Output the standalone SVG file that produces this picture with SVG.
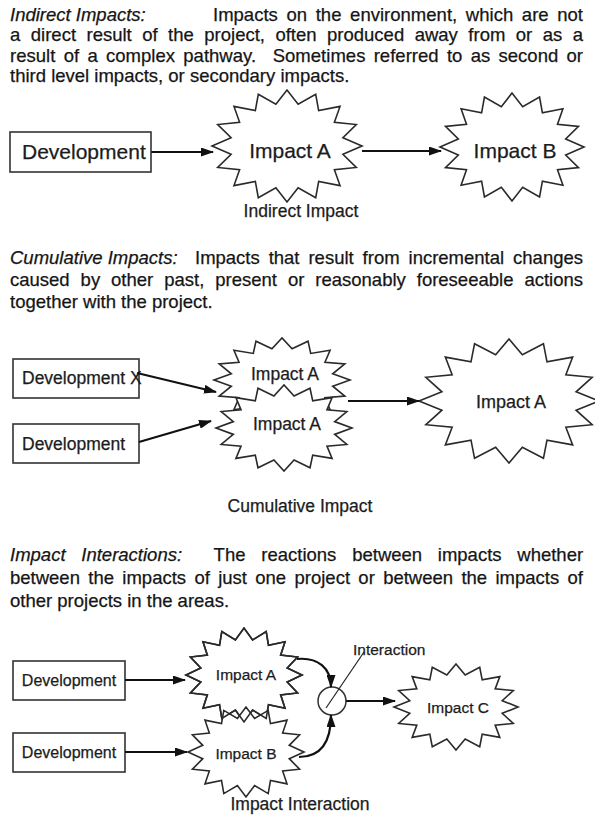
<svg xmlns="http://www.w3.org/2000/svg" xmlns:xlink="http://www.w3.org/1999/xlink" width="595" height="816" viewBox="0 0 595 816">
  <style>
    .p { font-family: "Liberation Sans", Arial, sans-serif; font-size: 18.5px; fill: #151515; stroke: #151515; stroke-width: 0.25; }
    .it { font-style: italic; }
    .lbl { font-family: "Liberation Sans", Arial, sans-serif; fill: #1c1c1c; stroke: #1c1c1c; stroke-width: 0.25; }
    .box { fill: #fff; stroke: #333; stroke-width: 1.6; }
    .burst { fill: #fff; stroke: #2a2a2a; stroke-width: 1.6; }
    .burst-line { fill: none; stroke: #2a2a2a; stroke-width: 1.6; }
    .conn { fill: none; stroke: #111; stroke-width: 2.2; }
    .thin { fill: none; stroke: #222; stroke-width: 1.2; }
  </style>
  <defs>
    <!-- 16-point burst, outer radius 100, inner radius 76 -->
    <polygon id="burst" vector-effect="non-scaling-stroke" points="100,0 74.54,14.83 92.39,38.27 63.19,42.22 70.71,70.71 42.22,63.19 38.27,92.39 14.83,74.54 0,100 -14.83,74.54 -38.27,92.39 -42.22,63.19 -70.71,70.71 -63.19,42.22 -92.39,38.27 -74.54,14.83 -100,0 -74.54,-14.83 -92.39,-38.27 -63.19,-42.22 -70.71,-70.71 -42.22,-63.19 -38.27,-92.39 -14.83,-74.54 0,-100 14.83,-74.54 38.27,-92.39 42.22,-63.19 70.71,-70.71 63.19,-42.22 92.39,-38.27 74.54,-14.83"/>
    <marker id="ah" markerUnits="userSpaceOnUse" markerWidth="13" markerHeight="9" refX="12" refY="4.5" orient="auto">
      <path d="M0,0 L13,4.5 L0,9 Z" fill="#111"/>
    </marker>
  </defs>

  <!-- Paragraph 1 -->
  <g id="text-indirect">
    <text class="p it" x="10" y="21">Indirect Impacts:</text>
    <text class="p" x="213" y="21" word-spacing="3.5" textLength="370" lengthAdjust="spacing">Impacts on the environment, which are not</text>
    <text class="p" x="10" y="41" word-spacing="5.3" textLength="573" lengthAdjust="spacing">a direct result of the project, often produced away from or as a</text>
    <text class="p" x="10" y="61.5" word-spacing="3.1" textLength="573" lengthAdjust="spacing">result of a complex pathway.&#160; Sometimes referred to as second or</text>
    <text class="p" x="10" y="82">third level impacts, or secondary impacts.</text>
  </g>

  <!-- Indirect impact diagram -->
  <g id="connectors-1">
    <line class="conn" x1="151" y1="152" x2="213" y2="152" marker-end="url(#ah)"/>
    <line class="conn" x1="362" y1="151" x2="441" y2="151" marker-end="url(#ah)"/>
  </g>
  <g id="dev-1">
    <rect class="box" x="10" y="132" width="141" height="40"/>
    <text class="lbl" x="22" y="159" font-size="21">Development</text>
  </g>
  <g id="impact-a-1">
    <use href="#burst" class="burst" transform="translate(287 146) scale(0.75 0.56)"/>
    <text class="lbl" x="290" y="158" font-size="21" text-anchor="middle">Impact A</text>
  </g>
  <g id="impact-b-1">
    <use href="#burst" class="burst" transform="translate(512 147) scale(0.72 0.54)"/>
    <text class="lbl" x="515" y="158" font-size="21" text-anchor="middle">Impact B</text>
  </g>
  <text class="lbl" x="301" y="217" font-size="17.5" text-anchor="middle">Indirect Impact</text>

  <!-- Paragraph 2 -->
  <g id="text-cumulative">
    <text class="p it" x="10" y="264">Cumulative Impacts:</text>
    <text class="p" x="195" y="264" word-spacing="3.8" textLength="388" lengthAdjust="spacing">Impacts that result from incremental changes</text>
    <text class="p" x="10" y="286" word-spacing="5.8" textLength="573" lengthAdjust="spacing">caused by other past, present or reasonably foreseeable actions</text>
    <text class="p" x="10" y="308">together with the project.</text>
  </g>

  <!-- Cumulative impact diagram -->
  <g id="impact-a-2a">
    <use href="#burst" class="burst" transform="translate(282 380) scale(0.68 0.42)"/>
  </g>
  <g id="impact-a-2b">
    <use href="#burst" class="burst" transform="translate(284 428) scale(0.68 0.43)"/>
  </g>
  <text class="lbl" x="285" y="380" font-size="17.5" text-anchor="middle">Impact A</text>
  <text class="lbl" x="287" y="430" font-size="17.5" text-anchor="middle">Impact A</text>
  <g id="impact-a-2c">
    <use href="#burst" class="burst" transform="translate(509 401) scale(0.9 0.62)"/>
    <text class="lbl" x="511" y="408" font-size="18" text-anchor="middle">Impact A</text>
  </g>
  <g id="dev-x">
    <rect class="box" x="13" y="359" width="126" height="39"/>
    <text class="lbl" x="22" y="384" font-size="17.5">Development X</text>
  </g>
  <g id="dev-2">
    <rect class="box" x="13" y="424" width="126" height="39"/>
    <text class="lbl" x="22" y="450" font-size="17.5">Development</text>
  </g>
  <g id="connectors-2">
    <line class="conn" x1="137" y1="373" x2="216" y2="392" marker-end="url(#ah)"/>
    <line class="conn" x1="139" y1="442" x2="211" y2="421" marker-end="url(#ah)"/>
    <line class="conn" x1="348" y1="401" x2="419" y2="401" marker-end="url(#ah)"/>
  </g>
  <text class="lbl" x="300" y="512" font-size="17.5" text-anchor="middle">Cumulative Impact</text>

  <!-- Paragraph 3 -->
  <g id="text-interactions">
    <text class="p it" x="10" y="561">Impact</text>
    <text class="p it" x="81.3" y="561">Interactions:</text>
    <text class="p" x="213.6" y="561">The</text>
    <text class="p" x="261.3" y="561">reactions</text>
    <text class="p" x="352.2" y="561">between</text>
    <text class="p" x="437.8" y="561">impacts</text>
    <text class="p" x="517.3" y="561">whether</text>
    <text class="p" x="10" y="584" word-spacing="3.2" textLength="573" lengthAdjust="spacing">between the impacts of just one project or between the impacts of</text>
    <text class="p" x="10" y="607">other projects in the areas.</text>
  </g>

  <!-- Impact interaction diagram -->
  <g id="dev-3a">
    <rect class="box" x="13" y="661" width="112" height="39"/>
    <text class="lbl" x="69" y="686" font-size="16" text-anchor="middle">Development</text>
  </g>
  <g id="dev-3b">
    <rect class="box" x="13" y="733" width="112" height="39"/>
    <text class="lbl" x="69" y="758" font-size="16" text-anchor="middle">Development</text>
  </g>
  <g id="impact-a-3">
    <use href="#burst" class="burst" transform="translate(244 675) scale(0.58 0.47)"/>
  </g>
  <g id="impact-b-3">
    <use href="#burst" class="burst" transform="translate(246 752) scale(0.58 0.45)"/>
  </g>
  <!-- outline of Impact A redrawn so both outlines show where they cross -->
  <use href="#burst" class="burst-line" transform="translate(244 675) scale(0.58 0.47)"/>
  <text class="lbl" x="246" y="680" font-size="15.5" text-anchor="middle">Impact A</text>
  <text class="lbl" x="246" y="759" font-size="15.5" text-anchor="middle">Impact B</text>
  <g id="interaction">
    <circle cx="332" cy="701" r="14" fill="#fff" stroke="#333" stroke-width="1.5"/>
    <line class="thin" x1="326" y1="708" x2="364" y2="652"/>
    <text class="lbl" x="353" y="655" font-size="15.5">Interaction</text>
  </g>
  <g id="impact-c-3">
    <use href="#burst" class="burst" transform="translate(456 707) scale(0.62 0.43)"/>
    <text class="lbl" x="458" y="713" font-size="15.5" text-anchor="middle">Impact C</text>
  </g>
  <g id="connectors-3">
    <line class="conn" x1="125" y1="680" x2="185" y2="680" marker-end="url(#ah)"/>
    <line class="conn" x1="125" y1="752" x2="187" y2="752" marker-end="url(#ah)"/>
    <path class="conn" d="M297,659 C318,657 331,668 331,687" marker-end="url(#ah)"/>
    <path class="conn" d="M299,757 C319,757 331,745 331,715" marker-end="url(#ah)"/>
    <line class="conn" x1="346" y1="701" x2="395" y2="701" marker-end="url(#ah)"/>
  </g>
  <text class="lbl" x="300" y="810" font-size="17.5" text-anchor="middle">Impact Interaction</text>
</svg>
